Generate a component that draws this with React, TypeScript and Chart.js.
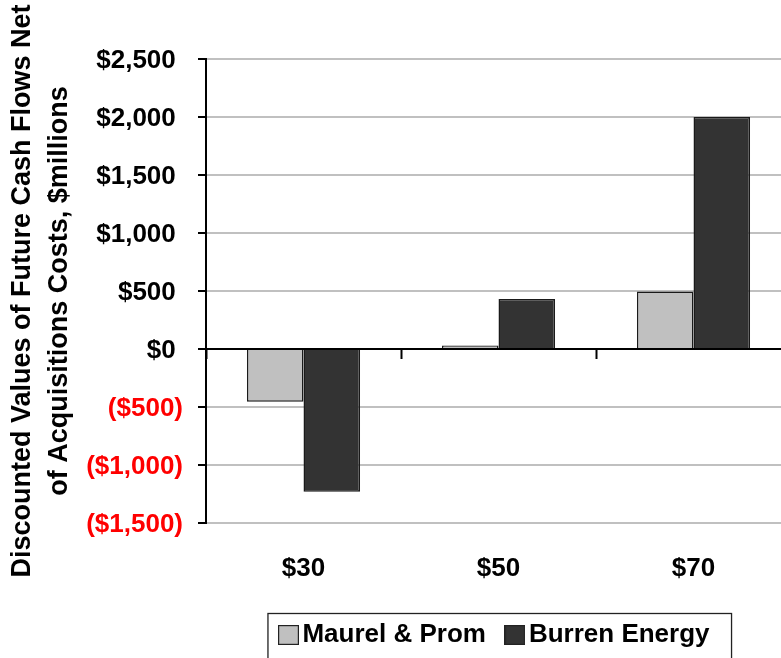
import React, { useEffect, useRef } from 'react';
import { Chart, registerables } from 'chart.js';

Chart.register(...registerables);

const categories = ['$30', '$50', '$70'];
const seriesNames = ['Maurel & Prom', 'Burren Energy'];
const maurelValues = [-455, 30, 495];
const burrenValues = [-1230, 430, 2000];
const seriesColors = ['#c0c0c0', '#333333'];
const yMin = -1500;
const yMax = 2500;
const yStep = 500;
const yTitleLines = ['Discounted Values of Future Cash Flows Net', 'of Acquisitions Costs, $millions'];

const FONT = "'Liberation Sans', Arial, Helvetica, sans-serif";

const fmt = (v: number) =>
  v < 0 ? `($${Math.abs(v).toLocaleString('en-US')})` : `$${v.toLocaleString('en-US')} `;

function makeSwatch(color: string) {
  const c = document.createElement('canvas');
  c.width = 21;
  c.height = 20;
  const g = c.getContext('2d')!;
  g.fillStyle = color;
  g.fillRect(0, 0, 21, 20);
  g.strokeStyle = '#222';
  g.lineWidth = 1.2;
  g.strokeRect(0.6, 0.6, 19.8, 18.8);
  return c;
}

const legendBorder = {
  id: 'legendBorder',
  afterDraw(chart: any) {
    const lg = chart.legend;
    if (!lg || !lg.legendHitBoxes || !lg.legendHitBoxes.length) return;
    const hb = lg.legendHitBoxes;
    const first = hb[0];
    const last = hb[hb.length - 1];
    const left = first.left - 19.5;
    const right = last.left + last.width + 22;
    const top = first.top - 8.5;
    const ctx = chart.ctx;
    ctx.save();
    ctx.strokeStyle = '#222';
    ctx.lineWidth = 1.3;
    ctx.strokeRect(left, top, right - left, 200);
    ctx.restore();
  },
};

export default function App() {
  const ref = useRef<HTMLCanvasElement>(null);

  useEffect(() => {
    if (!ref.current) return;
    const swatches = seriesColors.map(makeSwatch);
    const chart = new Chart(ref.current, {
      type: 'bar',
      data: {
        labels: categories,
        datasets: [
          {
            label: seriesNames[0],
            data: maurelValues,
            backgroundColor: seriesColors[0],
            borderColor: '#1a1a1a',
            borderWidth: 1.5,
            barPercentage: 1,
            categoryPercentage: 0.58,
            xAxisID: 'x',
            yAxisID: 'y',
          },
          {
            label: seriesNames[1],
            data: burrenValues,
            backgroundColor: seriesColors[1],
            borderColor: '#1a1a1a',
            borderWidth: 1.5,
            barPercentage: 1,
            categoryPercentage: 0.58,
            xAxisID: 'x',
            yAxisID: 'y',
          },
        ],
      },
      options: {
        responsive: false,
        animation: false,
        devicePixelRatio: 1,
        layout: { padding: { top: 59, right: 4, bottom: 42, left: 0 } },
        scales: {
          x: {
            type: 'category',
            position: 'bottom',
            offset: true,
            afterFit: (s: any) => {
              s.height = 71;
            },
            grid: { display: false, drawTicks: false },
            border: { display: false },
            ticks: {
              font: { family: FONT, size: 26, weight: 'bold' },
              color: '#000',
              padding: 30,
              maxRotation: 0,
            },
          },
          x2: {
            type: 'category',
            axis: 'x',
            position: { y: 0 },
            offset: true,
            grid: {
              display: true,
              offset: true,
              drawOnChartArea: false,
              drawTicks: true,
              tickLength: 9,
              tickColor: '#000',
              tickWidth: 2,
            },
            border: { display: true, color: '#000', width: 2, z: 1 },
            ticks: { display: false },
          },
          y: {
            min: yMin,
            max: yMax,
            afterFit: (s: any) => {
              s.width = 206;
            },
            ticks: {
              stepSize: yStep,
              padding: 15,
              labelOffset: 2,
              font: { family: FONT, size: 26, weight: 'bold' },
              color: (ctx: any) => (ctx.tick && ctx.tick.value < 0 ? '#ff0000' : '#000000'),
              callback: (v: any) => fmt(Number(v)),
            },
            grid: {
              color: '#c0c0c0',
              lineWidth: 2,
              tickColor: '#000',
              tickWidth: 2,
              tickLength: 8,
              drawTicks: true,
            },
            border: { display: true, color: '#000', width: 2 },
            title: {
              display: true,
              text: yTitleLines,
              color: '#000',
              font: { family: FONT, size: 27, weight: 'bold', lineHeight: 1.38 },
              padding: { top: 4, bottom: 0 },
            },
          },
        },
        plugins: {
          tooltip: { enabled: false },
          title: { display: false },
          legend: {
            display: true,
            position: 'bottom',
            fullSize: false,
            labels: {
              usePointStyle: true,
              pointStyleWidth: 2,
              padding: 28,
              color: '#000',
              font: { family: FONT, size: 26, weight: 'bold' },
              generateLabels: (c: any) => {
                const items = (Chart as any).defaults.plugins.legend.labels.generateLabels(c);
                items.forEach((it: any, i: number) => {
                  it.pointStyle = swatches[i];
                });
                return items;
              },
            },
          },
        },
      } as any,
      plugins: [legendBorder],
    });
    return () => chart.destroy();
  }, []);

  return (
    <div
      style={{
        position: 'fixed',
        left: 0,
        top: 0,
        width: 781,
        height: 658,
        overflow: 'hidden',
        background: '#fff',
      }}
    >
      <canvas ref={ref} width={795} height={700} style={{ display: 'block', width: 795, height: 700 }} />
    </div>
  );
}
